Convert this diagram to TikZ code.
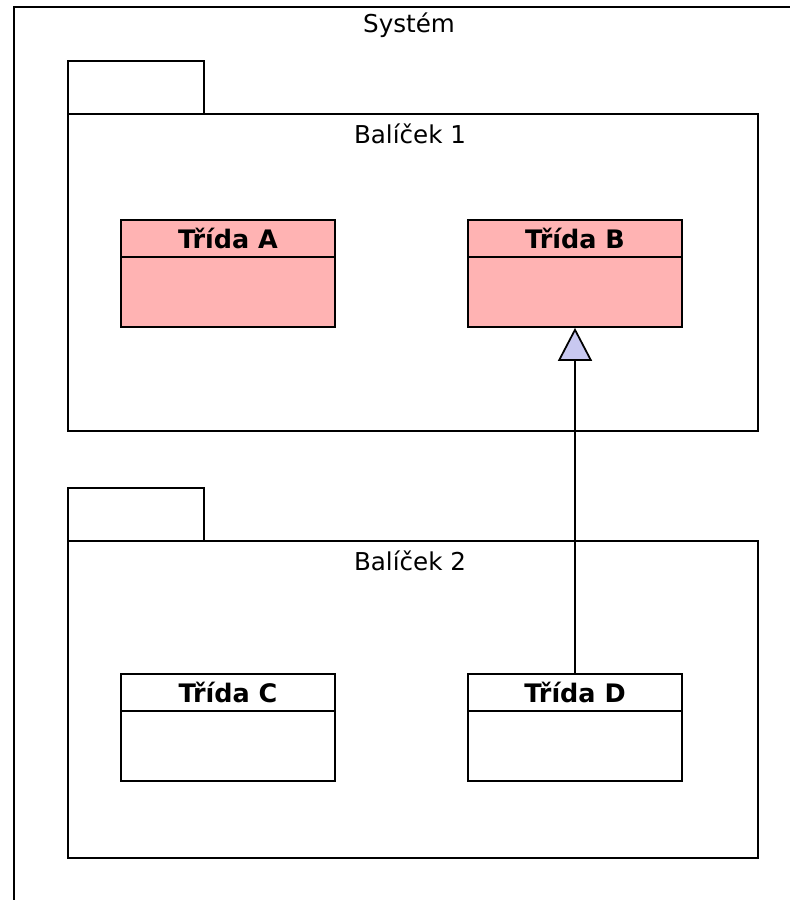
\documentclass[tikz,border=0pt]{standalone}
\usepackage{fontspec}
\setmainfont{DejaVu Sans}
\usetikzlibrary{arrows.meta}
\definecolor{pinkc}{HTML}{FFB3B3}
\definecolor{lilac}{HTML}{C8C8F0}

\begin{document}
\begin{tikzpicture}[x=0.02cm, y=-0.02cm, line width=1pt,
  cls/.style={draw, rectangle, minimum width=4.28cm, minimum height=2.14cm, inner sep=0pt},
  clsname/.style={font=\fontsize{14.5}{16}\selectfont\bfseries, inner sep=0pt},
  pkgname/.style={font=\fontsize{14}{16}\selectfont, inner sep=0pt}]
\useasboundingbox (0,0) rectangle (790,900);
\draw (14,910) -- (14,7) -- (800,7);
\node[pkgname] (sys) at (409,25) {Systém};
% packages
\foreach \p/\y in {1/61, 2/488}{
\draw (68,\y) rectangle (204,\y+53);
\draw (68,\y+53) rectangle (758,\y+370);
\node[pkgname] (pkg\p) at (410,\y+73) {Balíček \p};
}
% classes
\foreach \n/\x/\y/\c in {A/228/273.5/pinkc, B/575/273.5/pinkc, C/228/727.5/white, D/575/727.5/white}{
\node[cls, fill=\c] (\n) at (\x,\y) {};
\draw (\n.north west) ++(0,38) -- ++(214,0);
\node[clsname] (t\n) at ([yshift=-0.38cm]\n.north) {Třída \n};
}
\draw[-{Triangle[length=0.66cm, width=0.68cm, fill=lilac]}] (D.north) -- (B.south);
\end{tikzpicture}
\end{document}
